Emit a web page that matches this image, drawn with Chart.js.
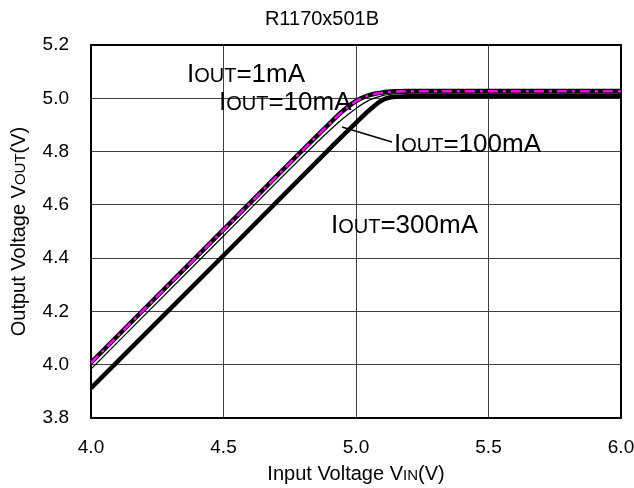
<!DOCTYPE html>
<html><head><meta charset="utf-8">
<script src="https://cdn.jsdelivr.net/npm/chart.js@4"></script>
<style>html,body{margin:0;padding:0;background:#fff}</style>
</head><body>
<canvas id="c" width="634" height="488"></canvas>
<script>
const chartTitle = 'R1170x501B';
const xTitleParts = ['Input Voltage V', 'IN', '(V)'];
const yTitleParts = ['Output Voltage V', 'OUT', '(V)'];
const seriesNames = ['1mA', '10mA', '100mA', '300mA'];

const vin       = [4.0,   4.5,   4.9,   4.95,  5.0,   5.05,  5.1,   5.15,  5.2,   6.0];
const vout1mA   = [4.008, 4.507, 4.905, 4.952, 4.990, 5.012, 5.022, 5.026, 5.027, 5.027];
const vout10mA  = [4.007, 4.506, 4.904, 4.951, 4.989, 5.011, 5.021, 5.025, 5.026, 5.026];
const vout100mA = [3.984, 4.483, 4.879, 4.923, 4.962, 4.993, 5.010, 5.017, 5.019, 5.019];
const vout300mA = [3.912, 4.410, 4.810, 4.860, 4.908, 4.955, 4.994, 5.006, 5.008, 5.008];

const xTicks = [4.0, 4.5, 5.0, 5.5, 6.0];
const yTicks = [3.8, 4.0, 4.2, 4.4, 4.6, 4.8, 5.0, 5.2];

const pts = arr => vin.map((v, i) => ({x: v, y: arr[i]}));
const FONT = '"Liberation Sans", Arial, sans-serif';

function drawParts(ctx, parts, sizes, x, y, align) {
  let w = 0;
  const widths = parts.map((p, i) => { ctx.font = sizes[i] + 'px ' + FONT; const m = ctx.measureText(p).width; w += m; return m; });
  let cx = align === 'center' ? x - w / 2 : x;
  ctx.textAlign = 'left';
  ctx.textBaseline = 'alphabetic';
  parts.forEach((p, i) => { ctx.font = sizes[i] + 'px ' + FONT; ctx.fillText(p, cx, y); cx += widths[i]; });
}

const decor = {
  id: 'decor',
  beforeDatasetsDraw(chart) {
    const {ctx, chartArea: a} = chart;
    ctx.save();
    ctx.strokeStyle = '#000';
    ctx.lineWidth = 2;
    ctx.strokeRect(a.left, a.top, a.right - a.left, a.bottom - a.top);
    ctx.restore();
  },
  afterDraw(chart) {
    const {ctx, chartArea: a} = chart;
    ctx.save();
    ctx.fillStyle = '#000';
    ctx.font = '20px ' + FONT;
    ctx.textAlign = 'center';
    ctx.textBaseline = 'alphabetic';
    ctx.fillText(chartTitle, 322, 25);
    drawParts(ctx, xTitleParts, [20, 15, 20], (a.left + a.right) / 2, 480, 'center');
    ctx.save();
    ctx.translate(25, (a.top + a.bottom) / 2);
    ctx.rotate(-Math.PI / 2);
    drawParts(ctx, yTitleParts, [20, 15, 20], 0, 0, 'center');
    ctx.restore();
    const lab = (name, x, y) => drawParts(ctx, ['I', 'OUT', '=' + name], [26, 20, 26], x, y, 'left');
    lab(seriesNames[0], 187, 82);
    lab(seriesNames[1], 219, 110);
    lab(seriesNames[2], 394, 152);
    lab(seriesNames[3], 331, 233);
    ctx.strokeStyle = '#000';
    ctx.lineWidth = 1.5;
    ctx.beginPath();
    ctx.moveTo(342, 127);
    ctx.lineTo(392, 142);
    ctx.stroke();
    ctx.restore();
  }
};

new Chart(document.getElementById('c'), {
  type: 'line',
  data: {
    datasets: [
      {label: 'IOUT=' + seriesNames[1], data: pts(vout10mA), borderColor: '#FF00FF', borderWidth: 2.5, borderDash: [10, 5, 3, 5], pointRadius: 0, cubicInterpolationMode: 'monotone', fill: false},
      {label: 'IOUT=' + seriesNames[2], data: pts(vout100mA), borderColor: '#000', borderWidth: 1.2, pointRadius: 0, cubicInterpolationMode: 'monotone', fill: false},
      {label: 'IOUT=' + seriesNames[0], data: pts(vout1mA), borderColor: '#000', borderWidth: 4.5, pointRadius: 0, cubicInterpolationMode: 'monotone', fill: false},
      {label: 'IOUT=' + seriesNames[3], data: pts(vout300mA), borderColor: '#000', borderWidth: 4.5, pointRadius: 0, cubicInterpolationMode: 'monotone', fill: false}
    ]
  },
  options: {
    responsive: false,
    animation: false,
    devicePixelRatio: 1,
    layout: {padding: {top: 45, right: 13, bottom: 0, left: 0}},
    plugins: {legend: {display: false}, tooltip: {enabled: false}, title: {display: false}},
    scales: {
      x: {
        type: 'linear', min: 4, max: 6,
        afterBuildTicks: s => { s.ticks = xTicks.map(v => ({value: v})); },
        afterFit: s => { s.height = 70; s.paddingLeft = 0; s.paddingRight = 0; },
        ticks: {color: '#000', font: {family: FONT, size: 19}, padding: 18, maxRotation: 0, autoSkip: false, callback: v => v.toFixed(1)},
        grid: {color: '#404040', lineWidth: 1, drawTicks: false},
        border: {display: false}
      },
      y: {
        type: 'linear', min: 3.8, max: 5.2,
        afterBuildTicks: s => { s.ticks = yTicks.map(v => ({value: v})); },
        afterFit: s => { s.width = 91; s.paddingTop = 0; s.paddingBottom = 0; },
        ticks: {color: '#000', font: {family: FONT, size: 19}, padding: 22, autoSkip: false, callback: v => v.toFixed(1)},
        grid: {color: '#404040', lineWidth: 1, drawTicks: false},
        border: {display: false}
      }
    }
  },
  plugins: [decor]
});
</script>
</body></html>
